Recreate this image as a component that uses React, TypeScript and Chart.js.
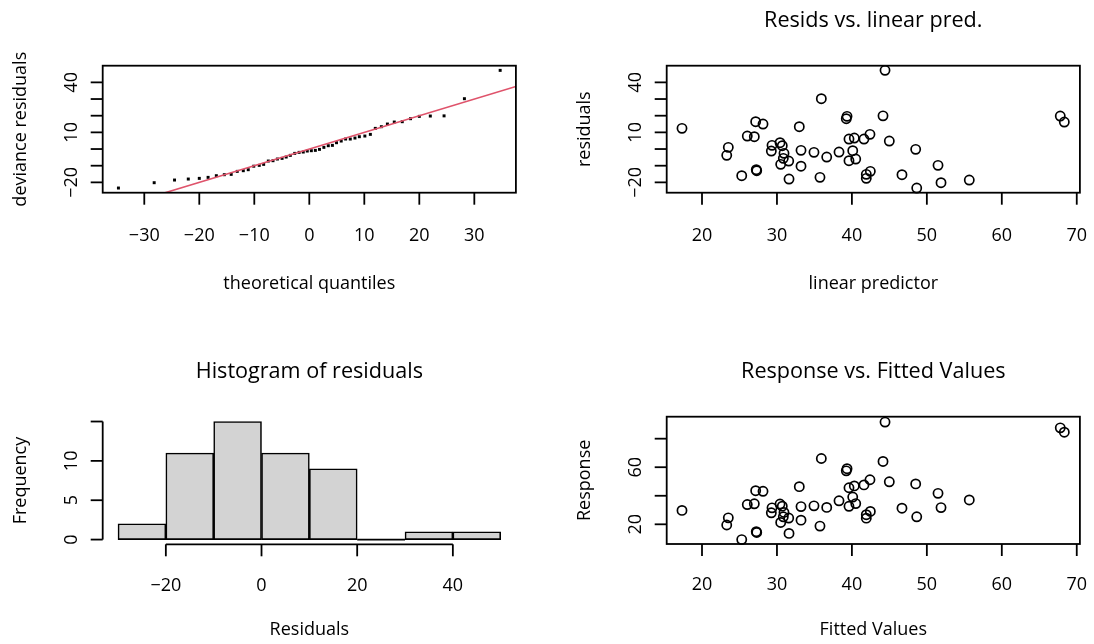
import { useEffect, useRef } from "react";
import { Chart, registerables } from "chart.js";

Chart.register(...registerables);

const FONT = '"Open Sans", "DejaVu Sans", sans-serif';

// Fitted values (identity link, so also the linear predictor) and their residuals
const fittedValues = [
  17.33, 23.3, 23.51, 25.3, 26.04, 26.98, 27.16, 27.24, 27.3, 28.14,
  29.25, 29.34, 30.41, 30.5, 30.71, 30.85, 30.94, 31.57, 31.61, 32.98,
  33.21, 33.21, 34.94, 35.74, 35.92, 36.64, 38.28, 39.25, 39.35, 39.61,
  39.61, 40.11, 40.32, 40.51, 41.61, 41.92, 41.92, 42.41, 42.46, 44.15,
  44.42, 44.99, 46.68, 48.51, 48.65, 51.49, 51.89, 55.66, 67.8, 68.34,
];
const residuals = [
  12.4, -3.8, 1.0, -16.0, 7.8, 7.4, 16.4, -12.4, -13.0, 15.0,
  -1.2, 2.2, 3.8, -9.2, 2.0, -5.6, -2.6, -7.2, -18.0, 13.4,
  -0.8, -10.3, -2.0, -17.0, 30.2, -4.8, -1.8, 18.2, 19.6, 6.0,
  -7.0, -1.0, 6.6, -6.0, 6.0, -15.2, -17.6, 8.8, -13.4, 19.9,
  47.2, 4.8, -15.4, -0.2, -23.4, -9.8, -20.2, -18.6, 19.8, 16.2,
];
const responseValues = [
  29.73, 19.5, 24.51, 9.3, 33.84, 34.38, 43.56, 14.84, 14.3, 43.14,
  28.05, 31.54, 34.21, 21.3, 32.71, 25.25, 28.34, 24.37, 13.61, 46.38,
  32.41, 22.91, 32.94, 18.74, 66.12, 31.84, 36.48, 57.45, 58.95, 45.61,
  32.61, 39.11, 46.92, 34.51, 47.61, 26.72, 24.32, 51.21, 29.06, 64.05,
  91.62, 49.79, 31.28, 48.31, 25.25, 41.69, 31.69, 37.06, 87.6, 84.54,
];

// Theoretical quantiles for the QQ panel (one per residual, ascending)
const theoreticalQuantiles = [
  -34.7, -28.2, -24.5, -22.0, -20.0, -18.4, -16.9, -15.45, -14.2, -13.1,
  -12.0, -11.1, -10.1, -9.1, -8.3, -7.45, -6.6, -5.8, -4.95, -4.2,
  -3.45, -2.65, -1.85, -1.1, -0.37, 0.37, 1.1, 1.85, 2.65, 3.45,
  4.2, 4.95, 5.8, 6.6, 7.45, 8.3, 9.1, 10.1, 11.1, 12.0,
  13.1, 14.2, 15.45, 16.9, 18.4, 20.0, 22.0, 24.5, 28.2, 34.7,
];

// Histogram of residuals
const histBreaks = [-30, -20, -10, 0, 10, 20, 30, 40, 50];
const histCounts = [2, 11, 15, 11, 9, 0, 1, 1];

// Axis limits
const qqXLimits = [-37.56, 37.56];
const residLimits = [-26.2, 50.0];
const fittedLimits = [15.29, 70.42];
const histXLimits = [-33.2, 53.2];
const histYLimits = [-0.6, 15.6];
const responseLimits = [6.2, 95.4];

// Tick positions and printed labels ("" = tick without a label)
const qqXTicks = [-30, -20, -10, 0, 10, 20, 30];
const qqXTickLabels = ["\u221230", "\u221220", "\u221210", "0", "10", "20", "30"];
const residTicks = [-20, -10, 0, 10, 20, 30, 40];
const residTickLabels = ["\u221220", "", "", "10", "", "", "40"];
const fittedTicks = [20, 30, 40, 50, 60, 70];
const fittedTickLabels = ["20", "30", "40", "50", "60", "70"];
const histXTicks = [-20, 0, 20, 40];
const histXTickLabels = ["\u221220", "0", "20", "40"];
const histYTicks = [0, 5, 10, 15];
const histYTickLabels = ["0", "5", "10", ""];
const responseTicks = [20, 40, 60, 80];
const responseTickLabels = ["20", "", "60", ""];

type FrameSpec = {
  box: boolean;
  xTicks: number[];
  xLabels: string[];
  yTicks: number[];
  yLabels: string[];
  title?: string;
  xTitle: string;
  yTitle: string;
  flatBins?: number[][];
  labelGap: number;
  titleGap: number;
};

// Base-graphics style frame: box or bare axes, outward ticks, rotated y labels
function makeFrame(spec: FrameSpec) {
  return {
    id: "rframe",
    afterDatasetsDraw(chart: any) {
      const { ctx, chartArea: a } = chart;
      const xs = chart.scales.x;
      const ys = chart.scales.y;
      const tick = 12;
      ctx.save();
      ctx.strokeStyle = "#000";
      ctx.fillStyle = "#000";
      ctx.lineWidth = 1.8;
      const seg = (x0: number, y0: number, x1: number, y1: number) => {
        ctx.beginPath();
        ctx.moveTo(x0, y0);
        ctx.lineTo(x1, y1);
        ctx.stroke();
      };
      if (spec.flatBins) {
        ctx.lineWidth = 1.6;
        const y0 = ys.getPixelForValue(0);
        for (const [b0, b1] of spec.flatBins) {
          seg(xs.getPixelForValue(b0), y0, xs.getPixelForValue(b1), y0);
        }
        ctx.lineWidth = 1.8;
      }
      if (spec.box) {
        ctx.strokeRect(a.left, a.top, a.right - a.left, a.bottom - a.top);
      } else {
        const xt = spec.xTicks;
        const yt = spec.yTicks;
        seg(xs.getPixelForValue(xt[0]), a.bottom, xs.getPixelForValue(xt[xt.length - 1]), a.bottom);
        seg(a.left, ys.getPixelForValue(yt[0]), a.left, ys.getPixelForValue(yt[yt.length - 1]));
      }
      ctx.font = `18px ${FONT}`;
      ctx.textBaseline = "alphabetic";
      ctx.textAlign = "center";
      spec.xTicks.forEach((v, i) => {
        const px = xs.getPixelForValue(v);
        seg(px, a.bottom, px, a.bottom + tick);
        if (spec.xLabels[i]) ctx.fillText(spec.xLabels[i], px, a.bottom + spec.labelGap);
      });
      spec.yTicks.forEach((v, i) => {
        const py = ys.getPixelForValue(v);
        seg(a.left, py, a.left - tick, py);
        if (spec.yLabels[i]) {
          ctx.save();
          ctx.translate(a.left - 26, py);
          ctx.rotate(-Math.PI / 2);
          ctx.fillText(spec.yLabels[i], 0, 0);
          ctx.restore();
        }
      });
      const cx = (a.left + a.right) / 2;
      const cy = (a.top + a.bottom) / 2;
      ctx.fillText(spec.xTitle, cx, a.bottom + spec.titleGap);
      ctx.save();
      ctx.translate(a.left - 77, cy);
      ctx.rotate(-Math.PI / 2);
      ctx.fillText(spec.yTitle, 0, 0);
      ctx.restore();
      if (spec.title) {
        ctx.font = `21.6px ${FONT}`;
        ctx.fillText(spec.title, cx, a.top - 38.5);
      }
      ctx.restore();
    },
  };
}

function baseOptions(padding: any, xLim: number[], yLim: number[]) {
  return {
    responsive: false,
    animation: false as const,
    events: [] as any[],
    layout: { padding },
    plugins: { legend: { display: false }, tooltip: { enabled: false }, title: { display: false } },
    scales: {
      x: { type: "linear" as const, min: xLim[0], max: xLim[1], display: false, offset: false },
      y: { type: "linear" as const, min: yLim[0], max: yLim[1], display: false, offset: false },
    },
  };
}

const circleStyle = {
  pointStyle: "circle",
  pointRadius: 4.6,
  pointBorderWidth: 1.7,
  pointBorderColor: "#000",
  pointBackgroundColor: "rgba(0,0,0,0)",
  clip: false,
};

function qqConfig(): any {
  const sortedResiduals = [...residuals].sort((p, q) => p - q);
  return {
    type: "scatter",
    data: {
      datasets: [
        {
          type: "line",
          data: [
            { x: qqXLimits[0], y: qqXLimits[0] },
            { x: qqXLimits[1], y: qqXLimits[1] },
          ],
          borderColor: "#DF536B",
          borderWidth: 1.6,
          pointRadius: 0,
          clip: 0,
        },
        {
          data: theoreticalQuantiles.map((q, i) => ({ x: q, y: sortedResiduals[i] })),
          pointStyle: "rect",
          pointRadius: 2.1,
          pointBorderWidth: 0,
          pointBackgroundColor: "#000",
          clip: false,
        },
      ],
    },
    options: baseOptions({ left: 102.7, right: 31.1, top: 65.7, bottom: 129.3 }, qqXLimits, residLimits),
    plugins: [
      makeFrame({
        box: true,
        xTicks: qqXTicks,
        xLabels: qqXTickLabels,
        yTicks: residTicks,
        yLabels: residTickLabels,
        xTitle: "theoretical quantiles",
        yTitle: "deviance residuals",
        labelGap: 48.3,
        titleGap: 96,
      }),
    ],
  };
}

function residConfig(): any {
  return {
    type: "scatter",
    data: {
      datasets: [{ data: fittedValues.map((f, i) => ({ x: f, y: residuals[i] })), ...circleStyle }],
    },
    options: baseOptions({ left: 119.7, right: 14.1, top: 65.7, bottom: 129.3 }, fittedLimits, residLimits),
    plugins: [
      makeFrame({
        box: true,
        xTicks: fittedTicks,
        xLabels: fittedTickLabels,
        yTicks: residTicks,
        yLabels: residTickLabels,
        title: "Resids vs. linear pred.",
        xTitle: "linear predictor",
        yTitle: "residuals",
        labelGap: 48.3,
        titleGap: 96,
      }),
    ],
  };
}

function histConfig(): any {
  const opts: any = baseOptions({ left: 102.7, right: 31, top: 94.8, bottom: 99.7 }, histXLimits, histYLimits);
  opts.scales.x.afterBuildTicks = (scale: any) => {
    scale.ticks = histBreaks.map((v) => ({ value: v }));
  };
  const flatBins: number[][] = [];
  histCounts.forEach((c, i) => {
    if (c === 0) flatBins.push([histBreaks[i], histBreaks[i + 1]]);
  });
  return {
    type: "bar",
    data: {
      datasets: [
        {
          data: histCounts.map((c, i) => ({ x: (histBreaks[i] + histBreaks[i + 1]) / 2, y: c })),
          backgroundColor: "#D3D3D3",
          borderColor: "#000",
          borderWidth: 1.6,
          borderSkipped: false,
          barPercentage: 1,
          categoryPercentage: 1,
          grouped: false,
        },
      ],
    },
    options: opts,
    plugins: [
      makeFrame({
        box: false,
        xTicks: histXTicks,
        xLabels: histXTickLabels,
        yTicks: histYTicks,
        yLabels: histYTickLabels,
        title: "Histogram of residuals",
        xTitle: "Residuals",
        yTitle: "Frequency",
        flatBins,
        labelGap: 46.3,
        titleGap: 91,
      }),
    ],
  };
}

function responseConfig(): any {
  return {
    type: "scatter",
    data: {
      datasets: [{ data: fittedValues.map((f, i) => ({ x: f, y: responseValues[i] })), ...circleStyle }],
    },
    options: baseOptions({ left: 119.7, right: 14.1, top: 94.7, bottom: 100 }, fittedLimits, responseLimits),
    plugins: [
      makeFrame({
        box: true,
        xTicks: fittedTicks,
        xLabels: fittedTickLabels,
        yTicks: responseTicks,
        yLabels: responseTickLabels,
        title: "Response vs. Fitted Values",
        xTitle: "Fitted Values",
        yTitle: "Response",
        labelGap: 46.3,
        titleGap: 91,
      }),
    ],
  };
}

function Panel({ left, top, build }: { left: number; top: number; build: () => any }) {
  const ref = useRef<HTMLCanvasElement | null>(null);
  useEffect(() => {
    const chart = new Chart(ref.current as HTMLCanvasElement, build());
    return () => chart.destroy();
  }, [build]);
  return (
    <canvas
      ref={ref}
      width={547}
      height={322}
      style={{ position: "absolute", left, top, width: 547, height: 322 }}
    />
  );
}

export default function App() {
  return (
    <div style={{ position: "absolute", left: 0, top: 0, width: 1094, height: 644, background: "#fff" }}>
      <Panel left={0} top={0} build={qqConfig} />
      <Panel left={547} top={0} build={residConfig} />
      <Panel left={0} top={322} build={histConfig} />
      <Panel left={547} top={322} build={responseConfig} />
    </div>
  );
}
